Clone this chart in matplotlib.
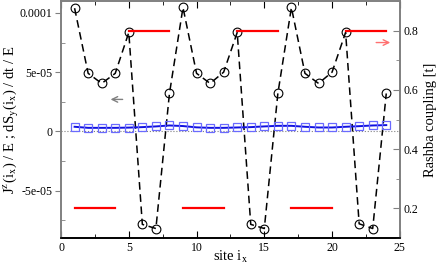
import matplotlib
matplotlib.use("Agg")
import matplotlib.pyplot as plt
import numpy as np
from matplotlib.ticker import MultipleLocator

plt.rcParams['font.family'] = ['Liberation Serif', 'DejaVu Serif']
plt.rcParams['mathtext.fontset'] = 'stix'

sites = list(range(1, 25))
jz = [1.04e-4, 4.9e-5, 4.05e-5, 4.9e-5, 8.35e-5, -7.85e-5, -8.2e-5, 3.2e-5,
      1.046e-4, 4.9e-5, 4.05e-5, 5.0e-5, 8.35e-5, -7.85e-5, -8.2e-5, 3.2e-5,
      1.046e-4, 4.9e-5, 4.05e-5, 5.0e-5, 8.35e-5, -7.8e-5, -8.2e-5, 3.2e-5]
dsy = [3.9e-6, 3.0e-6, 3.0e-6, 3.0e-6, 3.2e-6, 3.6e-6, 4.2e-6, 5.0e-6,
       4.5e-6, 3.4e-6, 3.0e-6, 3.0e-6, 3.3e-6, 3.6e-6, 4.2e-6, 4.7e-6,
       4.7e-6, 3.9e-6, 3.3e-6, 3.3e-6, 3.9e-6, 4.4e-6, 5.0e-6, 5.3e-6]
rashba = [0.2, 0.2, 0.2, 0.2, 0.8, 0.8, 0.8, 0.8,
          0.2, 0.2, 0.2, 0.2, 0.8, 0.8, 0.8, 0.8,
          0.2, 0.2, 0.2, 0.2, 0.8, 0.8, 0.8, 0.8]

fig = plt.figure(figsize=(4.36, 2.70), dpi=100)
ax = fig.add_axes([0.14, 0.1185, 0.777, 0.8775])
ax2 = ax.twinx()

gray = '#808080'
ax.axhline(0, color=gray, lw=0.8, ls=':', zorder=1)
ax.plot(sites, jz, color='black', ls=(0, (5, 3)), lw=1.1, marker='o', ms=6.3,
        mfc='none', mec='black', mew=0.8, zorder=3)
ax.plot(sites, dsy, color='#1010e0', lw=1.4, marker='s', ms=5.3,
        mfc='none', mec='#6a6aff', mew=0.9, zorder=3)

# Rashba segments: break between groups of equal value
rx, ry = [], []
for i, (s, r) in enumerate(zip(sites, rashba)):
    if i > 0 and r != rashba[i - 1]:
        rx.append(np.nan); ry.append(np.nan)
    rx.append(s); ry.append(r)
ax2.plot(rx, ry, color='red', lw=1.6, zorder=2)

ax.set_xlim(0, 25)
ax.set_ylim(-9e-5, 1.1e-4)
ax2.set_ylim(0.1, 0.9)

ax.set_xticks([0, 5, 10, 15, 20, 25])
ax.xaxis.set_minor_locator(MultipleLocator(2.5))
ax.set_yticks([-5e-5, 0, 5e-5, 1e-4])
ax.set_yticklabels(['-5e-05', '0', '5e-05', '0.0001'])
ax.yaxis.set_minor_locator(MultipleLocator(2.5e-5))
ax2.set_yticks([0.2, 0.4, 0.6, 0.8])
ax2.set_yticklabels(['0.2', '0.4', '0.6', '0.8'])
ax2.yaxis.set_minor_locator(MultipleLocator(0.1))

ax.tick_params(axis='x', which='both', direction='in', top=True, labelsize=8.5,
               color='black', pad=3)
ax.tick_params(axis='x', which='major', length=5)
ax.tick_params(axis='x', which='minor', length=3)
ax.tick_params(axis='y', which='major', direction='out', length=4, color=gray,
               labelsize=8.5, pad=2)
ax.tick_params(axis='y', which='minor', direction='in', length=3, color=gray)
ax2.tick_params(axis='y', which='major', direction='in', length=5, color=gray,
                labelsize=8.5, pad=3)
ax2.tick_params(axis='y', which='minor', direction='in', length=3, color=gray)

for a in (ax, ax2):
    a.spines['left'].set_color(gray)
    a.spines['top'].set_color(gray)
    a.spines['right'].set_color(gray)
    a.spines['bottom'].set_color('black')
    for sp in a.spines.values():
        sp.set_linewidth(1.2)

ax.set_xlabel('site i$_{\\mathrm{x}}$', fontsize=10.5)
ax.xaxis.set_label_coords(0.5, -0.045)
ax.set_ylabel('J$^{\\mathrm{z}}$(i$_{\\mathrm{x}}$) / E ; dS$_{\\mathrm{y}}$(i$_{\\mathrm{x}}$) / dt / E',
              fontsize=10.5)
ax.yaxis.set_label_coords(-0.118, 0.5)
ax2.set_ylabel('Rashba coupling [t]', fontsize=10.5, labelpad=4)

ax.annotate('', xy=(3.45, 2.7e-5), xytext=(4.75, 2.7e-5),
            arrowprops=dict(arrowstyle='->', color=gray, lw=1.0))
ax2.annotate('', xy=(24.5, 0.76), xytext=(23.05, 0.76),
             arrowprops=dict(arrowstyle='->', color='#ff7070', lw=1.0))

fig.savefig('out.png', dpi=100)
